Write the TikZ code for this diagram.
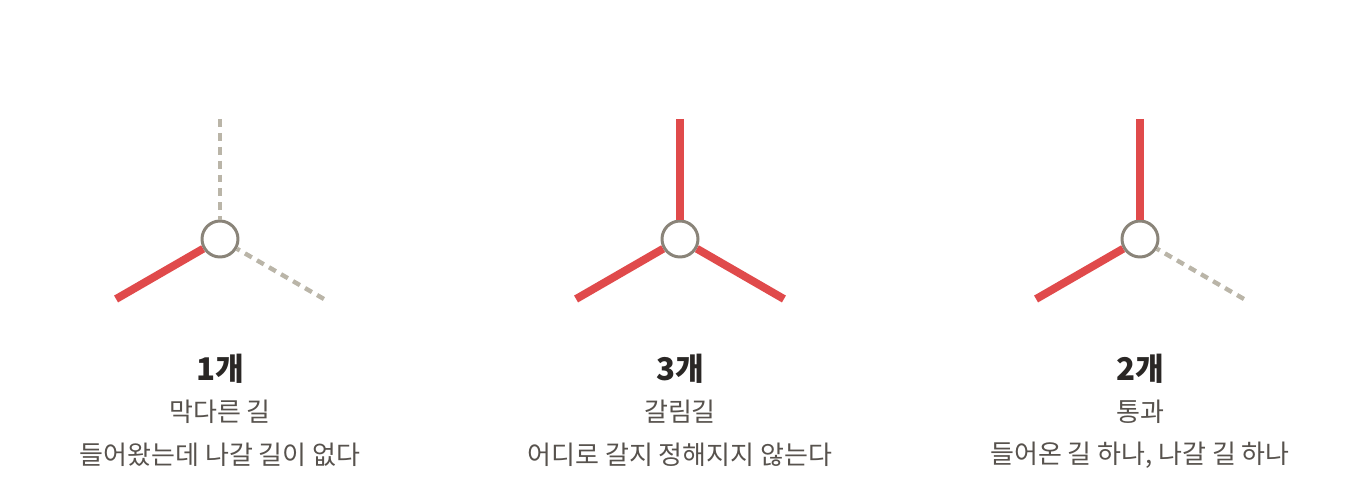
\documentclass[tikz,border=0pt]{standalone}
\usepackage{fontspec}
\setmainfont{Noto Sans CJK KR}
\definecolor{roadred}{HTML}{E04A4B}
\definecolor{roadgray}{HTML}{BAB5A8}
\definecolor{hubgray}{HTML}{8A8479}
\definecolor{numtext}{HTML}{2A2725}
\definecolor{subtext}{HTML}{57524D}
\tikzset{
	hub/.style={circle,draw=hubgray,line width=1.7pt,fill=white,minimum size=0.72cm,inner sep=0pt},
	open road/.style={roadred,line width=4.5pt},
	no road/.style={roadgray,line width=2.5pt,dash pattern=on 4.5pt off 3.4pt},
	count/.style={font=\fontsize{17.8}{20}\selectfont\bfseries,text=numtext},
	caption/.style={font=\fontsize{14.8}{17}\selectfont,text=subtext}
}
\begin{document}
\begin{tikzpicture}[x=0.02cm,y=-0.02cm]
	\useasboundingbox (0,0) rectangle (1360,500);
	
	\begin{scope}[shift={(220,239)}]
	\node[hub] (h1) at (0,0) {};
	\coordinate (h1u) at (-90:120);
	\coordinate (h1l) at (150:120);
	\coordinate (h1r) at (30:120);
	\draw [no road] (h1u) -- (h1);
	\draw [no road] (h1r) -- (h1);
	\draw [open road] (h1l) -- (h1);
	\end{scope}
	
	\begin{scope}[shift={(680,239)}]
	\node[hub] (h3) at (0,0) {};
	\coordinate (h3u) at (-90:120);
	\coordinate (h3l) at (150:120);
	\coordinate (h3r) at (30:120);
	\draw [open road] (h3u) -- (h3);
	\draw [open road] (h3r) -- (h3);
	\draw [open road] (h3l) -- (h3);
	\end{scope}
	
	\begin{scope}[shift={(1140,239)}]
	\node[hub] (h2) at (0,0) {};
	\coordinate (h2u) at (-90:120);
	\coordinate (h2l) at (150:120);
	\coordinate (h2r) at (30:120);
	\draw [open road] (h2u) -- (h2);
	\draw [no road] (h2r) -- (h2);
	\draw [open road] (h2l) -- (h2);
	\end{scope}
	
	\node[count] (n1) at (220,369) {1개};
	\node[caption] (t1) at (220,412) {막다른 길};
	\node[caption] (d1) at (220,455) {들어왔는데 나갈 길이 없다};
	
	\node[count] (n3) at (680,369) {3개};
	\node[caption] (t3) at (680,412) {갈림길};
	\node[caption] (d3) at (680,455) {어디로 갈지 정해지지 않는다};
	
	\node[count] (n2) at (1140,369) {2개};
	\node[caption] (t2) at (1140,412) {통과};
	\node[caption] (d2) at (1140,455) {들어온 길 하나, 나갈 길 하나};
\end{tikzpicture}
\end{document}
